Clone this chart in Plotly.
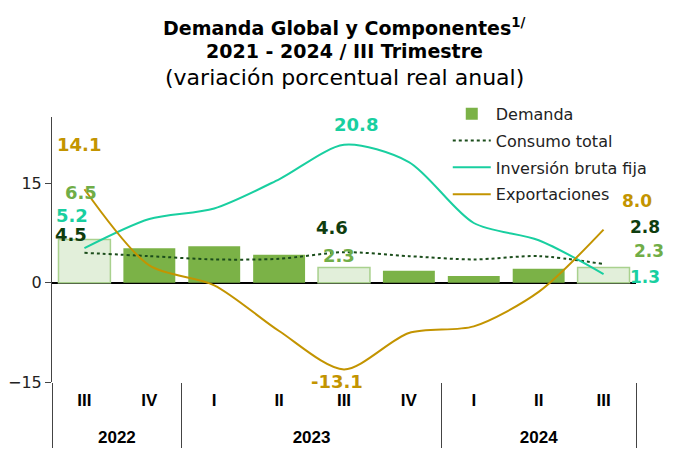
import plotly.graph_objects as go

# datos
anios = ["2022", "2022", "2023", "2023", "2023", "2023", "2024", "2024", "2024"]
trimestres = ["III", "IV", "I", "II", "III", "IV", "I", "II", "III"]
demanda = [6.5, 5.2, 5.5, 4.2, 2.3, 1.8, 1.0, 2.1, 2.3]
consumo = [4.5, 4.0, 3.5, 3.6, 4.6, 4.0, 3.5, 4.0, 2.8]
inversion = [5.2, 9.6, 11.2, 15.6, 20.8, 18.2, 9.0, 6.4, 1.3]
exportaciones = [14.1, 2.6, -0.4, -7.3, -13.1, -7.6, -6.6, -1.4, 8.0]

# trimestres destacados (III) con barra clara
destacado = [t == "III" for t in trimestres]

c_bar = "#7BB247"
c_bar_light = "#E2EFDA"
c_cons = "#1B4D1B"
c_inv = "#19CFA0"
c_exp = "#C39400"
fnt = "DejaVu Sans"

# el "<br>" extra baja la fila de los años; el relleno distinto para 2022
# evita que plotly reordene los trimestres dentro de cada año
x = [anios, [t + "<br>" + (" " if a == "2022" else "  ") for a, t in zip(anios, trimestres)]]

fig = go.Figure()
fig.add_trace(go.Bar(
    x=x, y=demanda, name="Demanda", marker=dict(color=c_bar, line=dict(width=0)),
    width=0.8, legendgroup="a"))
fig.add_trace(go.Bar(
    x=x, y=[v if d else None for v, d in zip(demanda, destacado)],
    showlegend=False, marker=dict(color=c_bar_light, line=dict(color="#A9D18E", width=1.5)),
    width=0.8, legendgroup="a"))
fig.add_trace(go.Scatter(
    x=x, y=consumo, name="Consumo total", mode="lines",
    line=dict(color=c_cons, dash="dot", width=2, shape="spline", smoothing=0.8), legendgroup="b"))
fig.add_trace(go.Scatter(
    x=x, y=inversion, name="Inversión bruta fija", mode="lines",
    line=dict(color=c_inv, width=2, shape="spline", smoothing=0.8), legendgroup="c"))
fig.add_trace(go.Scatter(
    x=x, y=exportaciones, name="Exportaciones", mode="lines",
    line=dict(color=c_exp, width=2, shape="spline", smoothing=0.8), legendgroup="d"))

# etiquetas de datos
def etiqueta(i, val, color, dx, dy, sz=18):
    fig.add_annotation(x=[anios[i], x[1][i]], y=val, text="<b>%.1f</b>" % val,
                       showarrow=False, xshift=dx, yshift=dy,
                       font=dict(family=fnt, size=sz, color=color))

etiqueta(0, exportaciones[0], c_exp, -5, 45)
etiqueta(0, demanda[0], "#70AD47", -3, 47)
etiqueta(0, inversion[0], c_inv, -12, 33)
etiqueta(0, consumo[0], "#0F3D0F", -13, 18)
etiqueta(4, inversion[4], c_inv, 12, 20)
etiqueta(4, consumo[4], "#0F3D0F", -12, 25)
etiqueta(4, demanda[4], "#70AD47", -5, 12)
etiqueta(4, exportaciones[4], c_exp, -7, -12)
etiqueta(8, exportaciones[8], c_exp, 33, 29, 17)
etiqueta(8, consumo[8], "#0F3D0F", 41, 37, 17)
etiqueta(8, demanda[8], "#70AD47", 45, 16, 17)
etiqueta(8, inversion[8], c_inv, 41, -3, 17)

# título en tres líneas
titulos = [("<b>Demanda Global y Componentes<sup>1/</sup></b>", 1.34, 19),
           ("<b>2021 - 2024 / III Trimestre</b>", 1.25, 19),
           ("(variación porcentual real anual)", 1.15, 22)]
for txt, yy, sz in titulos:
    fig.add_annotation(text=txt, x=0.5, y=yy, xref="paper", yref="paper",
                       xanchor="center", yanchor="middle", showarrow=False,
                       font=dict(family=fnt, size=sz, color="#000000"))

# la página tiene 8 px de margen en el body
fig.update_layout(
    width=668, height=447,
    margin=dict(l=44, r=40, t=109, b=73),
    plot_bgcolor="white", paper_bgcolor="white",
    barmode="overlay", showlegend=True,
    legend=dict(x=1.027, y=1.076, xanchor="right", yanchor="top", bgcolor="rgba(0,0,0,0)",
                font=dict(family=fnt, size=16, color="#222222"), tracegroupgap=3,
                itemwidth=38, traceorder="grouped"),
)
fig.update_yaxes(range=[-15, 25], tickvals=[-15, 0, 15], ticks="outside", ticklen=6,
                 showline=True, linecolor="#444444", linewidth=1, showgrid=False,
                 zeroline=True, zerolinecolor="#000000", zerolinewidth=1.5,
                 automargin=False,
                 tickfont=dict(family=fnt, size=16, color="#222222"))
# rango fijo: las etiquetas desplazadas no deben ensanchar el eje
fig.update_xaxes(type="multicategory", range=[-0.5, len(anios) - 0.5], autorange=False,
                 showgrid=False, showline=False, ticks="",
                 showdividers=True, dividercolor="#444444", dividerwidth=1,
                 automargin=False, ticklabelstandoff=6,
                 tickfont=dict(family="Liberation Sans", size=17, color="#000000", weight="bold"))

fig.write_html("out.html")
